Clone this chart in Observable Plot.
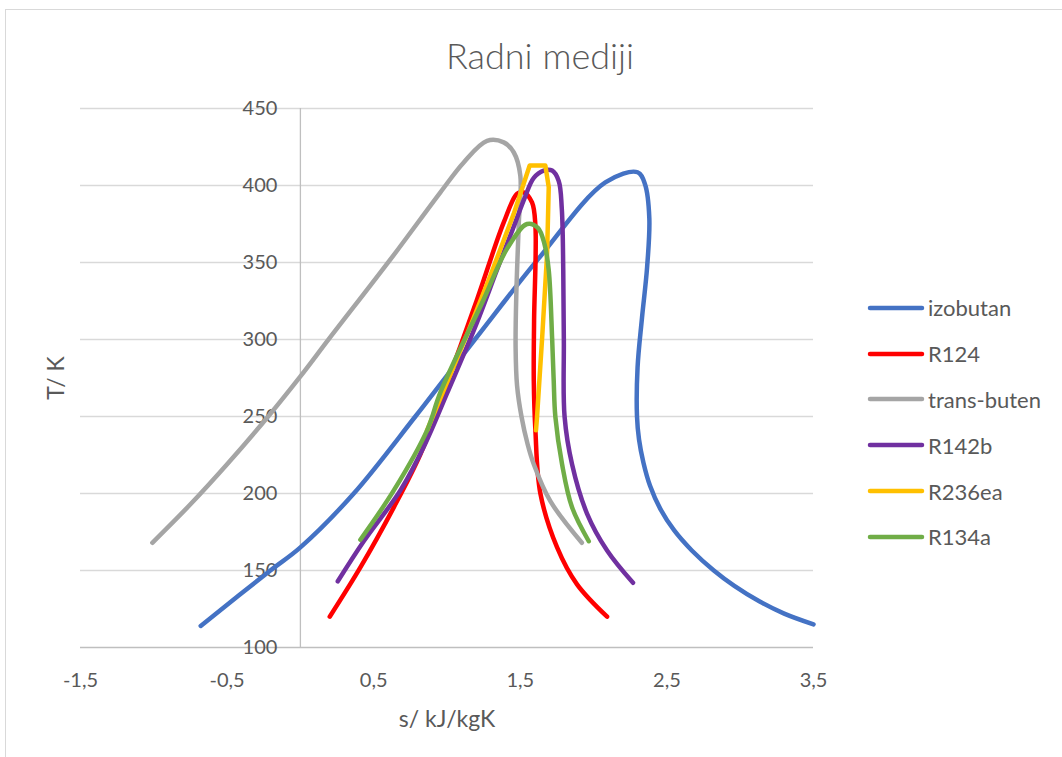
<!DOCTYPE html>
<html>
<head>
<meta charset="utf-8">
<script src="https://cdn.jsdelivr.net/npm/d3@7"></script>
<script src="https://cdn.jsdelivr.net/npm/@observablehq/plot@0.6"></script>
<style>
  html, body { margin: 0; padding: 0; background: #fff; }
  #wrap { position: relative; width: 1062px; height: 757px; overflow: hidden; font-family: Lato, "Open Sans", sans-serif; color: #595959; }
  #border { position: absolute; left: 5px; top: 9px; width: 1100px; height: 800px; border: 1px solid #d9d9d9; box-sizing: border-box; }
  #chart { position: absolute; left: 0; top: 0; }
  .lbl { position: absolute; white-space: nowrap; line-height: 1; }
  #title { left: 540px; top: 55px; transform: translate(-50%, -50%); font-size: 36px; font-weight: 300; }
  #ylab { left: 55px; top: 378px; transform: translate(-50%, -50%) rotate(-90deg); font-size: 23px; }
  #xlab { left: 447px; top: 718px; transform: translate(-50%, -50%); font-size: 23px; }
  #legend { position: absolute; left: 866px; top: 285px; }
  .item { display: flex; align-items: center; height: 45.8px; font-size: 22px; }
  .item svg { margin-right: 3px; }
</style>
</head>
<body>
<div id="wrap">
  <div id="border"></div>
  <div id="chart"></div>
  <div id="title" class="lbl">Radni mediji</div>
  <div id="ylab" class="lbl">T/ K</div>
  <div id="xlab" class="lbl">s/ kJ/kgK</div>
  <div id="legend"></div>
</div>
<script>
const seriesNames = ["izobutan", "R124", "trans-buten", "R142b", "R236ea", "R134a"];
const seriesColors = ["#4472C4", "#FF0000", "#A5A5A5", "#7030A0", "#FFC000", "#70AD47"];
const xTicks = [-1.5, -0.5, 0.5, 1.5, 2.5, 3.5];
const yTicks = [100, 150, 200, 250, 300, 350, 400, 450];

const izobutanS = [-0.68, -0.205, 0, 0.364, 0.784, 1.19, 1.62, 2.08, 2.30, 2.35, 2.38, 2.365, 2.33, 2.30, 2.296, 2.31, 2.34, 2.385, 2.455, 2.55, 2.67, 2.82, 2.96, 3.13, 3.30, 3.5];
const izobutanT = [114, 150, 165, 200, 250, 300, 352, 402, 408.6, 401, 379, 347, 314, 282, 250, 235, 220, 205, 190, 176, 163, 150, 140, 130, 122, 115];

const r124S = [0.2, 0.409, 0.637, 0.819, 0.955, 1.205, 1.387, 1.478, 1.523, 1.58, 1.603, 1.594, 1.592, 1.603, 1.637, 1.751, 1.887, 2.092];
const r124T = [120, 152, 191, 225.6, 260, 326, 376, 394.6, 395.6, 389, 374, 312, 273, 241, 200, 165, 141, 120];

const transButenS = [-1.01, -0.75, -0.5, -0.22, 0, 0.2, 0.614, 0.955, 1.114, 1.273, 1.387, 1.455, 1.50, 1.489, 1.473, 1.468, 1.478, 1.508, 1.55, 1.592, 1.705, 1.92];
const transButenT = [168, 193, 219, 250, 276, 301, 352, 395.6, 415, 429, 428, 421.6, 406.5, 374, 330, 295, 270, 250, 232, 219, 195, 168];

const r142bS = [0.255, 0.432, 0.682, 0.85, 1.0, 1.2, 1.34, 1.45, 1.53, 1.592, 1.66, 1.717, 1.762, 1.783, 1.793, 1.797, 1.802, 1.853, 1.955, 2.092, 2.269];
const r142bT = [143, 169, 202, 232, 265, 310, 345, 372, 392, 405, 409.7, 409.7, 403, 385, 345, 300, 250, 219, 187, 163, 142];

const r236eaS = [0.864, 0.955, 1.14, 1.296, 1.455, 1.564, 1.671, 1.694, 1.683, 1.649, 1.614, 1.607];
const r236eaT = [241, 262, 304, 341.5, 381.6, 413, 413, 399, 356, 301, 249.5, 241];

const r134aS = [0.409, 0.637, 0.864, 0.955, 1.25, 1.41, 1.546, 1.62, 1.665, 1.694, 1.717, 1.728, 1.739, 1.785, 1.853, 1.967];
const r134aT = [170, 202, 241, 265.7, 326, 359, 375, 372.5, 362, 345, 301, 273, 250, 219, 191, 169];

const seriesS = [izobutanS, r124S, transButenS, r142bS, r236eaS, r134aS];
const seriesT = [izobutanT, r124T, transButenT, r142bT, r236eaT, r134aT];
const seriesCurve = ["catmull-rom", "catmull-rom", "catmull-rom", "catmull-rom", "linear", "catmull-rom"];

const fmt = d => String(d).replace(".", ",");
const font = "Lato, 'Open Sans', sans-serif";

const lineMarks = seriesNames.map((name, i) => {
  const data = seriesS[i].map((s, j) => ({s, T: seriesT[i][j]}));
  return Plot.line(data, {
    x: "s", y: "T", stroke: seriesColors[i], strokeWidth: 4.5,
    strokeLinecap: "round", strokeLinejoin: "round", curve: seriesCurve[i]
  });
});

const plot = Plot.plot({
  width: 1062,
  height: 757,
  marginLeft: 80,
  marginRight: 249,
  marginTop: 108,
  marginBottom: 110,
  x: {domain: [-1.5, 3.5], axis: null},
  y: {domain: [100, 450], axis: null},
  style: {fontFamily: font, background: "transparent", overflow: "visible"},
  marks: [
    Plot.ruleY(yTicks.filter(d => d !== 100), {y: d => d, stroke: "#d9d9d9", strokeWidth: 1.3}),
    Plot.ruleY([100], {stroke: "#bfbfbf", strokeWidth: 1.3}),
    Plot.ruleX([0], {y1: 100, y2: 450, stroke: "#bfbfbf", strokeWidth: 1.3}),
    Plot.text(yTicks, {x: 0, y: d => d, text: d => String(d), dx: -23, textAnchor: "end", fontSize: 20, fill: "#595959"}),
    Plot.text(xTicks, {x: d => d, y: 100, text: fmt, dy: 33, textAnchor: "middle", fontSize: 20, fill: "#595959"}),
    ...lineMarks
  ]
});
document.getElementById("chart").appendChild(plot);

const legend = document.getElementById("legend");
seriesNames.forEach((name, i) => {
  const item = document.createElement("div");
  item.className = "item";
  item.innerHTML = `<svg width="59" height="10"><line x1="4" y1="5" x2="56" y2="5" stroke="${seriesColors[i]}" stroke-width="4.5" stroke-linecap="round"/></svg><span>${name}</span>`;
  legend.appendChild(item);
});
</script>
</body>
</html>
